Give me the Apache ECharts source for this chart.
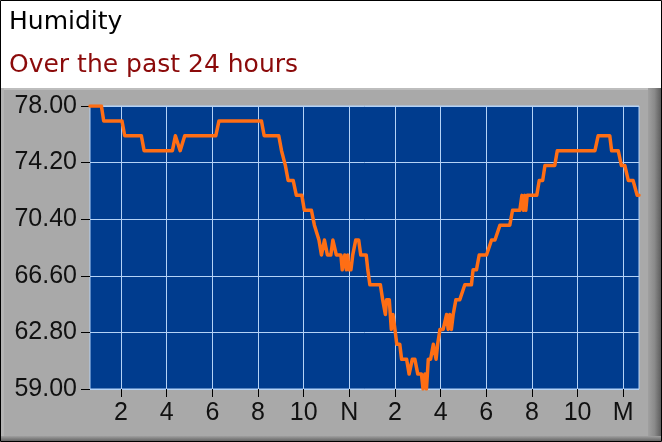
<!DOCTYPE html>
<html>
<head>
<meta charset="utf-8">
<script src="https://cdn.jsdelivr.net/npm/echarts@6/dist/echarts.min.js"></script>
<style>
html,body{margin:0;padding:0;background:#fff;}
#chart{width:662px;height:442px;}
</style>
</head>
<body>
<div id="chart"></div>
<script>
// Time of each reading (hours since previous midnight) and humidity (%)
var hours = [
  0.64, 1.14, 1.24, 2.04, 2.16, 2.89, 3.01, 4.25, 4.38, 4.46, 4.59, 4.66, 4.79,
  6.15, 6.29, 8.15, 8.27, 8.91, 9.03, 9.09, 9.20, 9.24, 9.32, 9.54, 9.68, 9.92,
  10.03, 10.34, 10.47, 10.54, 10.67, 10.71, 10.78, 10.84, 10.91, 10.97, 11.04, 11.19,
  11.28, 11.34, 11.43, 11.63, 11.69, 11.76, 11.80, 11.87, 11.93, 11.98, 12.07, 12.15,
  12.28, 12.41, 12.50, 12.74, 12.81, 12.90, 13.36, 13.46, 13.51, 13.58, 13.63, 13.75,
  13.84, 13.91, 14.00, 14.08, 14.21, 14.29, 14.51, 14.62, 14.70, 14.76, 14.87, 15.00,
  15.16, 15.23, 15.31, 15.38, 15.46, 15.56, 15.68, 15.75, 15.80, 15.87, 15.97, 16.11,
  16.26, 16.33, 16.40, 16.47, 16.55, 16.67, 16.84, 17.06, 17.35, 17.42, 17.57, 17.69,
  18.01, 18.23, 18.38, 18.60, 19.03, 19.15, 19.47, 19.56, 19.63, 19.69, 19.73, 19.79,
  20.21, 20.32, 20.47, 20.57, 21.00, 21.11, 22.76, 22.90, 23.41, 23.49, 23.78, 23.92,
  24.07, 24.22, 24.43, 24.61, 24.69
];
var humidity = [
  78, 78, 77, 77, 76, 76, 75, 75, 76, 76, 75, 75, 76,
  76, 77, 77, 76, 76, 75, 75, 74, 74, 73, 73, 72, 72,
  71, 71, 70, 70, 69, 69, 68, 68, 69, 69, 68, 68,
  69, 69, 68, 68, 67, 67, 68, 67, 68, 67, 67, 68,
  69, 69, 68, 68, 67, 66, 66, 65, 65, 64, 65, 65,
  63, 64, 63, 62, 62, 61, 61, 60, 60, 61, 61, 60,
  60, 59, 60, 59, 61, 61, 62, 62, 61, 62, 63, 63,
  64, 63, 64, 63, 64, 65, 65, 66, 66, 67, 67, 68,
  68, 69, 69, 70, 70, 71, 71, 72, 71, 72, 71, 72,
  72, 73, 73, 74, 74, 75, 75, 76, 76, 75, 75, 74,
  74, 73, 73, 72, 72
];
var xTickValues = [2, 4, 6, 8, 10, 12, 14, 16, 18, 20, 22, 24];
var xTickLabels = ['2', '4', '6', '8', '10', 'N', '2', '4', '6', '8', '10', 'M'];
var yTickValues = [59, 62.8, 66.6, 70.4, 74.2, 78];

var titleText = 'Humidity';
var subtitleText = 'Over the past 24 hours';

var points = hours.map(function (h, i) { return [h, humidity[i]]; });

var chart = echarts.init(document.getElementById('chart'), null, {renderer: 'canvas'});
var W = 662, H = 442;
chart.setOption({
  backgroundColor: '#ffffff',
  animation: false,
  graphic: [
    {type: 'rect', z: -100, shape: {x: 1, y: 88, width: W - 2, height: H - 89}, style: {fill: '#a9a9a9'}},
    {type: 'rect', z: -99, shape: {x: 1, y: 88, width: W - 2, height: 2}, style: {fill: '#bdbdbd'}},
    {type: 'rect', z: -99, shape: {x: 1, y: 88, width: 3, height: H - 89}, style: {fill: '#b4b4b4'}},
    {type: 'rect', z: -99, shape: {x: 648, y: 88, width: 13, height: H - 88},
      style: {fill: new echarts.graphic.LinearGradient(0, 0, 1, 0, [
        {offset: 0, color: '#a0a0a0'}, {offset: 0.5, color: '#8a8a8a'}, {offset: 1, color: '#5e5e5e'}])}},
    {type: 'rect', z: -99, shape: {x: 1, y: 436, width: W - 2, height: 6},
      style: {fill: new echarts.graphic.LinearGradient(0, 0, 0, 1, [
        {offset: 0, color: '#a0a0a0'}, {offset: 1, color: '#5a5a5a'}])}},
    {type: 'rect', z: 100, shape: {x: 0.5, y: 0.5, width: W - 1, height: H - 1},
      style: {fill: null, stroke: '#000', lineWidth: 1}}
  ],
  title: [
    {text: titleText, left: 4, top: 5,
      textStyle: {fontFamily: 'DejaVu Sans', fontSize: 25, fontWeight: 'normal', color: '#000'}},
    {text: subtitleText, left: 4, top: 48,
      textStyle: {fontFamily: 'DejaVu Sans', fontSize: 25, fontWeight: 'normal', color: '#8b0a0a'}}
  ],
  grid: {
    left: 90, right: 23, top: 106, bottom: 53,
    show: true, backgroundColor: '#003c8e', borderColor: '#b4d2f6', borderWidth: 1,
    containLabel: false
  },
  xAxis: {
    type: 'value', min: 0.64, max: 24.69,
    axisLine: {show: false},
    axisTick: {show: true, length: 8, customValues: xTickValues, lineStyle: {color: '#000', width: 1}},
    axisLabel: {
      customValues: xTickValues, margin: 12,
      fontFamily: 'Liberation Sans', fontSize: 25, color: '#111',
      formatter: function (v) {
        var i = xTickValues.indexOf(Math.round(v));
        return i >= 0 ? xTickLabels[i] : '';
      }
    },
    splitLine: {show: true, lineStyle: {color: '#b4d2f6', width: 1}},
    minorTick: {show: false}
  },
  yAxis: {
    type: 'value', min: 59, max: 78,
    axisLine: {show: false},
    axisTick: {show: true, length: 9, customValues: yTickValues, lineStyle: {color: '#000', width: 1}},
    axisLabel: {
      customValues: yTickValues, margin: 13,
      fontFamily: 'Liberation Sans', fontSize: 25, color: '#111',
      formatter: function (v) { return v.toFixed(2); }
    },
    splitLine: {show: true, lineStyle: {color: '#b4d2f6', width: 1}}
  },
  series: [{
    type: 'line',
    data: points,
    showSymbol: false,
    symbol: 'none',
    smooth: false,
    lineStyle: {color: '#ff6e14', width: 3.5, join: 'round', cap: 'round'},
    clip: true
  }]
});
</script>
</body>
</html>
